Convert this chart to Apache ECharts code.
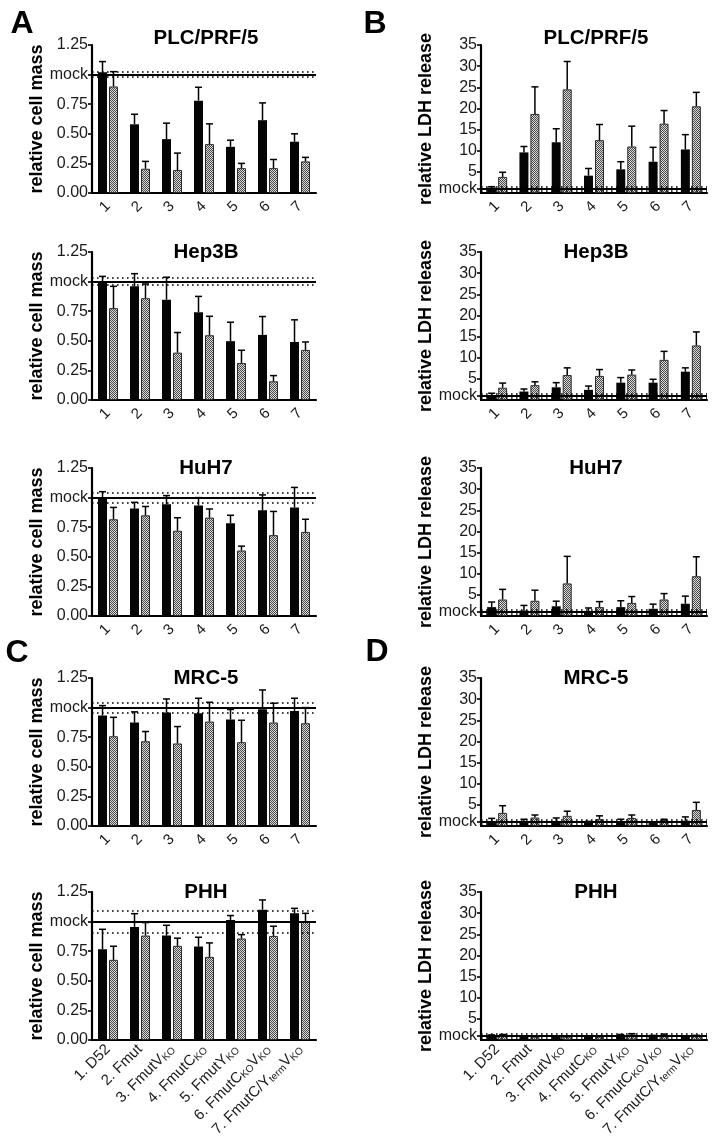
<!DOCTYPE html>
<html><head><meta charset="utf-8">
<script src="https://cdn.jsdelivr.net/npm/echarts@6/dist/echarts.min.js"></script>
<style>html,body{margin:0;padding:0;background:#fff}#c{width:714px;height:1140px}</style>
</head><body><div id="c"></div>
<script>
// ---------- data ----------
const categoriesShort = ['1','2','3','4','5','6','7'];
const categoriesLong = ['1. D52','2. Fmut','3. FmutV{s|KO}','4. FmutC{s|KO}','5. FmutY{s|KO}','6. FmutC{s|KO}V{s|KO}','7. FmutC/Y{s|term}V{s|KO}'];
const cellLines = ['PLC/PRF/5','Hep3B','HuH7','MRC-5','PHH'];
const panelLetters = ['A','B','C','D'];
const massTicks = [0, 0.25, 0.5, 0.75, 1, 1.25];
const ldhTicks = [1, 5, 10, 15, 20, 25, 30, 35];

// relative cell mass (mean, SD)
const massPLCBlack = [1.02, 0.58, 0.455, 0.78, 0.39, 0.615, 0.433];
const massPLCBlackSd = [0.09, 0.085, 0.135, 0.113, 0.056, 0.146, 0.067];
const massPLCGray = [0.90, 0.205, 0.194, 0.413, 0.21, 0.21, 0.267];
const massPLCGraySd = [0.125, 0.062, 0.143, 0.171, 0.04, 0.073, 0.034];

const massHep3BBlack = [1.0, 0.96, 0.847, 0.742, 0.497, 0.55, 0.49];
const massHep3BBlackSd = [0.044, 0.107, 0.19, 0.133, 0.16, 0.155, 0.187];
const massHep3BGray = [0.776, 0.86, 0.40, 0.547, 0.313, 0.158, 0.423];
const massHep3BGraySd = [0.184, 0.12, 0.17, 0.16, 0.107, 0.048, 0.067];

const massHuH7Black = [0.99, 0.907, 0.944, 0.933, 0.784, 0.893, 0.916];
const massHuH7BlackSd = [0.06, 0.053, 0.073, 0.067, 0.067, 0.13, 0.17];
const massHuH7Gray = [0.817, 0.85, 0.72, 0.831, 0.553, 0.683, 0.71];
const massHuH7GraySd = [0.10, 0.075, 0.11, 0.073, 0.037, 0.2, 0.107];

const massMRC5Black = [0.933, 0.874, 0.958, 0.952, 0.90, 0.986, 0.972];
const massMRC5BlackSd = [0.084, 0.09, 0.115, 0.127, 0.084, 0.163, 0.107];
const massMRC5Gray = [0.758, 0.716, 0.697, 0.882, 0.708, 0.874, 0.868];
const massMRC5GraySd = [0.16, 0.082, 0.143, 0.163, 0.185, 0.163, 0.132];

const massPHHBlack = [0.767, 0.955, 0.882, 0.789, 1.014, 1.101, 1.07];
const massPHHBlackSd = [0.168, 0.112, 0.087, 0.079, 0.037, 0.082, 0.042];
const massPHHGray = [0.677, 0.882, 0.795, 0.702, 0.857, 0.879, 1.0];
const massPHHGraySd = [0.115, 0.11, 0.065, 0.118, 0.033, 0.082, 0.07];

const massMockSd = [0.02, 0.033, 0.04, 0.04, 0.093];

// relative LDH release (mean, SD)
const ldhPLCBlack = [1.3, 9.6, 12.0, 4.1, 5.6, 7.4, 10.3];
const ldhPLCBlackSd = [0.2, 1.4, 3.2, 1.7, 1.8, 3.4, 3.5];
const ldhPLCGray = [3.8, 18.7, 24.5, 12.5, 11.0, 16.4, 20.5];
const ldhPLCGraySd = [1.1, 6.4, 6.6, 3.7, 4.8, 3.1, 3.3];

const ldhHep3BBlack = [1.2, 2.0, 3.0, 2.4, 4.1, 4.1, 6.7];
const ldhHep3BBlackSd = [0.4, 0.6, 1.1, 0.9, 1.2, 0.8, 0.9];
const ldhHep3BGray = [2.9, 3.5, 5.9, 5.7, 6.0, 9.5, 12.9];
const ldhHep3BGraySd = [1.1, 0.8, 1.7, 1.5, 1.1, 2.0, 3.2];

const ldhHuH7Black = [2.1, 1.3, 2.3, 1.2, 2.1, 1.7, 2.9];
const ldhHuH7BlackSd = [1.2, 1.2, 1.2, 0.7, 1.5, 1.1, 1.8];
const ldhHuH7Gray = [3.9, 3.6, 7.7, 2.1, 3.1, 3.9, 9.4];
const ldhHuH7GraySd = [2.4, 2.5, 6.4, 1.3, 1.5, 1.4, 4.6];

const ldhMRC5Black = [0.9, 1.2, 0.9, 0.8, 0.9, 0.7, 1.25];
const ldhMRC5BlackSd = [0.9, 0.4, 1.0, 0.3, 0.7, 0.2, 0.9];
const ldhMRC5Gray = [3.1, 2.0, 2.4, 1.6, 1.9, 1.4, 3.8];
const ldhMRC5GraySd = [1.7, 0.6, 1.1, 0.8, 0.7, 0.2, 1.8];

const ldhPHHBlack = [1.0, 0.8, 0.7, 0.8, 1.1, 1.0, 0.8];
const ldhPHHBlackSd = [0.2, 0.1, 0.1, 0.1, 0.2, 0.1, 0.1];
const ldhPHHGray = [1.1, 0.8, 0.8, 0.8, 1.3, 1.2, 1.0];
const ldhPHHGraySd = [0.2, 0.1, 0.1, 0.1, 0.2, 0.2, 0.1];

const ldhMockSd = [0.5, 0.5, 0.5, 0.5, 0.4];

// ---------- assembly ----------
const massSets = [
  [massPLCBlack, massPLCBlackSd, massPLCGray, massPLCGraySd],
  [massHep3BBlack, massHep3BBlackSd, massHep3BGray, massHep3BGraySd],
  [massHuH7Black, massHuH7BlackSd, massHuH7Gray, massHuH7GraySd],
  [massMRC5Black, massMRC5BlackSd, massMRC5Gray, massMRC5GraySd],
  [massPHHBlack, massPHHBlackSd, massPHHGray, massPHHGraySd]
];
const ldhSets = [
  [ldhPLCBlack, ldhPLCBlackSd, ldhPLCGray, ldhPLCGraySd],
  [ldhHep3BBlack, ldhHep3BBlackSd, ldhHep3BGray, ldhHep3BGraySd],
  [ldhHuH7Black, ldhHuH7BlackSd, ldhHuH7Gray, ldhHuH7GraySd],
  [ldhMRC5Black, ldhMRC5BlackSd, ldhMRC5Gray, ldhMRC5GraySd],
  [ldhPHHBlack, ldhPHHBlackSd, ldhPHHGray, ldhPHHGraySd]
];

const FONT = '"Liberation Sans", Arial, Helvetica, sans-serif';
const rowTops = [45, 252, 468, 678, 892];
const rowH = 148;
const colLeft = [92, 481];
const colW = [224, 226];
const BAR_W = 9;
const BAR_GAP = 0.22;

// checkered gray pattern
const pc = document.createElement('canvas');
pc.width = 2; pc.height = 2;
const pctx = pc.getContext('2d');
pctx.fillStyle = '#dcdcdc'; pctx.fillRect(0, 0, 2, 2);
pctx.fillStyle = '#484848'; pctx.fillRect(0, 0, 1, 1); pctx.fillRect(1, 1, 1, 1);
const grayFill = { image: pc, repeat: 'repeat' };

const grids = [], xAxes = [], yAxes = [], series = [], graphics = [];

function errSeries(idx, black, blackSd, gray, graySd) {
  const off = (BAR_W * 2 + BAR_W * BAR_GAP) / 2 - BAR_W / 2;
  const data = black.map((v, k) => [k, v, blackSd[k], -1])
    .concat(gray.map((v, k) => [k, v, graySd[k], 1]));
  return {
    type: 'custom', xAxisIndex: idx, yAxisIndex: idx, z: 6, silent: true,
    data: data, encode: { x: 0, y: 1 },
    renderItem: function (params, api) {
      const c = api.coord([api.value(0), api.value(1)]);
      const t = api.coord([api.value(0), api.value(1) + api.value(2)]);
      const x = c[0] + api.value(3) * off;
      return {
        type: 'group', children: [
          { type: 'line', shape: { x1: x, y1: c[1], x2: x, y2: t[1] }, style: { stroke: '#000', lineWidth: 1.5 } },
          { type: 'line', shape: { x1: x - 3.5, y1: t[1], x2: x + 3.5, y2: t[1] }, style: { stroke: '#000', lineWidth: 1.5 } }
        ]
      };
    }
  };
}

function mockLines(sd) {
  return {
    silent: true, symbol: 'none', label: { show: false }, animation: false,
    data: [
      { yAxis: 1, lineStyle: { color: '#000', width: 2, type: 'solid' } },
      { yAxis: 1 + sd, lineStyle: { color: '#000', width: 1.6, type: [1.6, 3.4] } },
      { yAxis: 1 - sd, lineStyle: { color: '#000', width: 1.6, type: [1.6, 3.4] } }
    ]
  };
}

for (let r = 0; r < 5; r++) {
  for (let col = 0; col < 2; col++) {
    const idx = grids.length;
    const isMass = col === 0;
    const last = r === 4;
    grids.push({ left: colLeft[col], top: rowTops[r], width: colW[col], height: rowH, containLabel: false });
    xAxes.push({
      type: 'category', gridIndex: idx,
      data: last ? categoriesLong : categoriesShort,
      axisLine: { lineStyle: { color: '#000', width: 2.2 } },
      axisTick: { show: false },
      axisLabel: {
        rotate: 45, margin: last ? 7 : 11, fontSize: 15, color: '#1a1a1a', fontFamily: FONT, interval: 0,
        rich: { s: { fontSize: 10, color: '#1a1a1a', fontFamily: FONT, verticalAlign: 'bottom', padding: [6, 0, 0, 0] } }
      }
    });
    const yCommon = {
      type: 'value', gridIndex: idx, min: 0,
      axisLine: { show: true, lineStyle: { color: '#000', width: 2.2 } },
      axisTick: { show: true, length: 4, lineStyle: { color: '#000', width: 1.6 } },
      splitLine: { show: false },
      nameLocation: 'middle', nameRotate: 90,
      nameTextStyle: { fontSize: 18, fontWeight: 'bold', color: '#000', fontFamily: FONT }
    };
    if (isMass) {
      yAxes.push(Object.assign({}, yCommon, {
        max: 1.25, interval: 0.25,
        name: 'relative cell mass', nameGap: 46,
        axisLabel: {
          fontSize: 16, color: '#1a1a1a', fontFamily: FONT, margin: 4, hideOverlap: false,
          customValues: massTicks,
          formatter: v => Math.abs(v - 1) < 1e-9 ? 'mock' : v.toFixed(2)
        },
        axisTick: Object.assign({}, yCommon.axisTick, { customValues: massTicks })
      }));
    } else {
      yAxes.push(Object.assign({}, yCommon, {
        max: 35, interval: 5,
        name: 'relative LDH release', nameGap: 44,
        axisLabel: {
          fontSize: 16, color: '#1a1a1a', fontFamily: FONT, margin: 4, hideOverlap: false,
          customValues: ldhTicks,
          formatter: v => Math.abs(v - 1) < 1e-9 ? 'mock' : (v === 0 ? '' : String(v))
        },
        axisTick: Object.assign({}, yCommon.axisTick, { customValues: ldhTicks })
      }));
    }
    const set = isMass ? massSets[r] : ldhSets[r];
    const sd = isMass ? massMockSd[r] : ldhMockSd[r];
    series.push({
      type: 'bar', xAxisIndex: idx, yAxisIndex: idx, data: set[0],
      barWidth: BAR_W, barGap: (BAR_GAP * 100) + '%', z: 3,
      itemStyle: { color: '#050505' }, silent: true
    });
    series.push({
      type: 'bar', xAxisIndex: idx, yAxisIndex: idx, data: set[2],
      barWidth: BAR_W, barGap: (BAR_GAP * 100) + '%', z: 3,
      itemStyle: { color: grayFill, borderColor: '#2a2a2a', borderWidth: 1 }, silent: true,
      markLine: mockLines(sd)
    });
    series.push(errSeries(idx, set[0], set[1], set[2], set[3]));

    // panel title
    graphics.push({
      type: 'text', x: colLeft[col] + colW[col] / 2 + 2, y: rowTops[r] - (r === 0 ? 7 : 0),
      style: { text: cellLines[r], font: 'bold 20.5px ' + FONT, fill: '#000', textAlign: 'center', textVerticalAlign: 'middle' }
    });
  }
}

const letterPos = [[22, 24], [375, 24], [17, 653], [377, 652]];
panelLetters.forEach((L, i) => {
  graphics.push({
    type: 'text', x: letterPos[i][0], y: letterPos[i][1],
    style: { text: L, font: 'bold 32px ' + FONT, fill: '#000', textAlign: 'center', textVerticalAlign: 'middle' }
  });
});

const chart = echarts.init(document.getElementById('c'), null, { renderer: 'canvas' });
chart.setOption({
  animation: false,
  backgroundColor: '#fff',
  textStyle: { fontFamily: FONT },
  grid: grids, xAxis: xAxes, yAxis: yAxes, series: series,
  graphic: graphics
});
</script></body></html>
